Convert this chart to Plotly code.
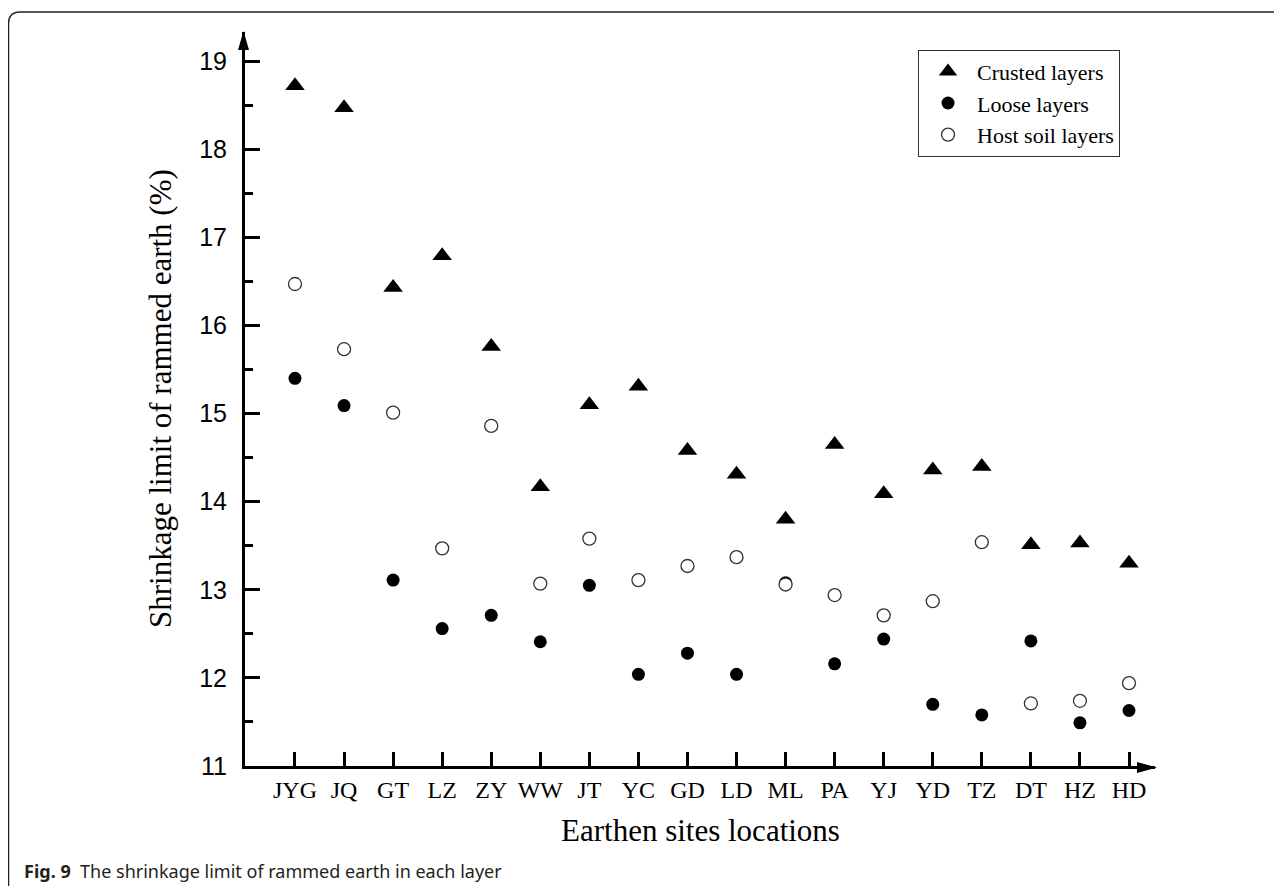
import plotly.graph_objects as go

sites = ["JYG", "JQ", "GT", "LZ", "ZY", "WW", "JT", "YC", "GD", "LD",
         "ML", "PA", "YJ", "YD", "TZ", "DT", "HZ", "HD"]
crusted = [18.72, 18.47, 16.43, 16.79, 15.76, 14.17, 15.10, 15.31, 14.58, 14.31,
           13.80, 14.65, 14.09, 14.36, 14.40, 13.51, 13.53, 13.30]
loose = [15.40, 15.09, 13.11, 12.56, 12.71, 12.41, 13.05, 12.04, 12.28, 12.04,
         13.08, 12.16, 12.44, 11.70, 11.58, 12.42, 11.49, 11.63]
host = [16.47, 15.73, 15.01, 13.47, 14.86, 13.07, 13.58, 13.11, 13.27, 13.37,
        13.06, 12.94, 12.71, 12.87, 13.54, 11.71, 11.74, 11.94]
y_ticks = [11, 12, 13, 14, 15, 16, 17, 18, 19]

W, H = 1266, 878
ML_, MR_, MT_, MB_ = 237, 119, 24, 120
PW, PH = W - ML_ - MR_, H - MT_ - MB_
OFF = 8  # body margin of the page


def px(xs):
    return (xs - OFF - ML_) / PW


def py(ys):
    return 1 - (ys - OFF - MT_) / PH


serif = "Liberation Serif, Times New Roman, serif"
sans = "Liberation Sans, Arial, sans-serif"

x_idx = list(range(len(sites)))

fig = go.Figure()
fig.add_trace(go.Scatter(
    x=x_idx, y=crusted, mode="markers", name="Crusted layers",
    marker=dict(symbol="triangle-up", size=17, color="black", line=dict(width=0))))
fig.add_trace(go.Scatter(
    x=x_idx, y=loose, mode="markers", name="Loose layers",
    marker=dict(symbol="circle", size=13, color="black", line=dict(width=0))))
fig.add_trace(go.Scatter(
    x=x_idx, y=host, mode="markers", name="Host soil layers",
    marker=dict(symbol="circle", size=13, color="white",
                line=dict(width=1.3, color="#333333"))))

fig.update_layout(
    width=W, height=H,
    margin=dict(l=ML_, r=MR_, t=MT_, b=MB_, pad=0),
    paper_bgcolor="white", plot_bgcolor="white",
    showlegend=True,
    legend=dict(x=0.7396, y=0.976, xanchor="left", yanchor="top",
                bgcolor="white", bordercolor="#333333", borderwidth=1,
                font=dict(family=serif, size=22, color="black"),
                tracegroupgap=0, itemsizing="trace", itemwidth=48),
    xaxis=dict(range=[-1.019, 17.53], tickmode="array", tickvals=x_idx,
               ticktext=sites, ticks="inside", ticklen=14, tickwidth=3,
               tickcolor="black", showline=True, linewidth=3, linecolor="black",
               showgrid=False, zeroline=False,
               tickfont=dict(family=serif, size=24, color="black"),
               ticklabelstandoff=0),
    yaxis=dict(range=[11, 19.33], tickmode="array", tickvals=y_ticks,
               ticks="inside", ticklen=15, tickwidth=3, tickcolor="black",
               minor=dict(dtick=0.5, tick0=11, ticks="inside", ticklen=8,
                          tickwidth=3, tickcolor="black"),
               showline=True, linewidth=3, linecolor="black",
               showgrid=False, zeroline=False,
               tickfont=dict(family=sans, size=25, color="black"),
               ticklabelstandoff=10),
)

# axis arrow heads (paper-referenced so they are not clipped)
fig.add_shape(type="path", xref="paper", yref="paper", xsizemode="pixel", ysizemode="pixel",
              xanchor=0, yanchor=1,
              path="M-1.5,1 L-7,-18 L4,-18 Z", fillcolor="black", line=dict(width=0))
fig.add_shape(type="path", xref="paper", yref="paper", xsizemode="pixel", ysizemode="pixel",
              xanchor=1, yanchor=0,
              path="M2,-1.5 L-18,4 L-18,-7 Z", fillcolor="black", line=dict(width=0))

# outer frame (top and left edges with rounded corner)
frame = (f"M{px(8.5)},{py(900)} L{px(8.5)},{py(24)} "
         f"Q{px(8.5)},{py(12)} {px(20)},{py(12)} L{px(1300)},{py(12)}")
fig.add_shape(type="path", xref="paper", yref="paper", path=frame,
              line=dict(color="#222222", width=1.5), layer="below")

# axis titles
fig.add_annotation(x=px(700), y=py(830), xref="paper", yref="paper",
                   xanchor="center", yanchor="middle",
                   text="Earthen sites locations", showarrow=False,
                   font=dict(family=serif, size=31, color="black"))
fig.add_annotation(x=px(160), y=py(399), xref="paper", yref="paper",
                   xanchor="center", yanchor="middle",
                   text="Shrinkage limit of rammed earth (%)", showarrow=False,
                   textangle=-90,
                   font=dict(family=serif, size=31, color="black"))
# caption
fig.add_annotation(x=px(22), y=py(885), xref="paper", yref="paper",
                   xanchor="left", yanchor="bottom",
                   text="<b>Fig. 9</b>  The shrinkage limit of rammed earth in each layer",
                   showarrow=False,
                   font=dict(family="Noto Sans, sans-serif", size=18, color="#231f20"))

fig.write_html("out.html")
